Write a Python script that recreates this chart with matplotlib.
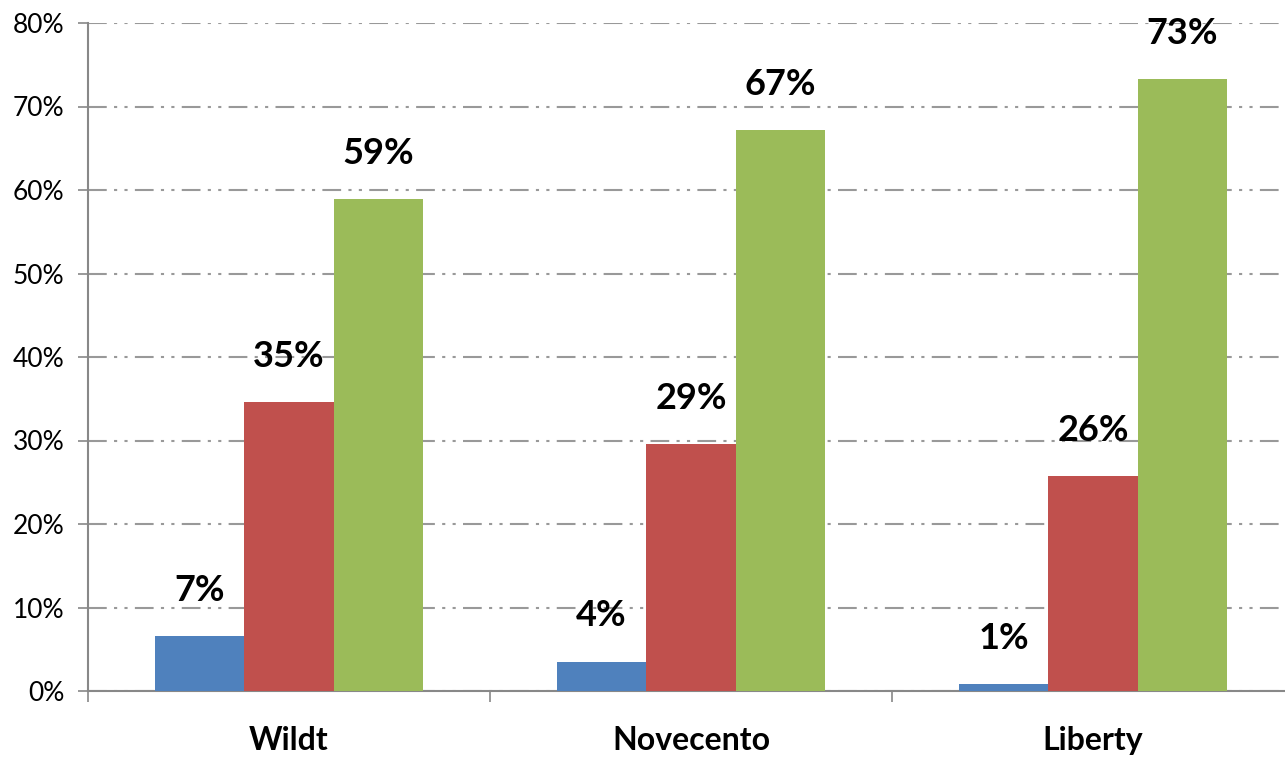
import matplotlib.pyplot as plt
import numpy as np

categories = ["Wildt", "Novecento", "Liberty"]
blue_vals = [6.6, 3.5, 0.8]
red_vals = [34.6, 29.6, 25.7]
green_vals = [58.9, 67.2, 73.3]
blue_labels = ["7%", "4%", "1%"]
red_labels = ["35%", "29%", "26%"]
green_labels = ["59%", "67%", "73%"]
yticks = [0, 10, 20, 30, 40, 50, 60, 70, 80]

plt.rcParams['font.family'] = ['Lato', 'DejaVu Sans']

fig = plt.figure(figsize=(12.85, 7.58), dpi=100)
ax = fig.add_axes([88/1285, 67/758, 1206/1285, 668/758])

x = np.arange(len(categories))
w = 0.2226
series = [(blue_vals, blue_labels, '#4F81BD'),
          (red_vals, red_labels, '#C0504D'),
          (green_vals, green_labels, '#9BBB59')]
for k, (vals, labs, col) in enumerate(series):
    xs = x + (k - 1) * w
    ax.bar(xs, vals, width=w, color=col, zorder=3)
    for xi, v, lab in zip(xs, vals, labs):
        ax.annotate(lab, (xi, v), xytext=(0, 33), textcoords='offset points',
                    ha='center', va='center', fontsize=26, fontweight='bold')

ax.set_xlim(-0.5, 2.5)
ax.set_ylim(0, 80)
ax.set_yticks(yticks)
ax.set_yticklabels([f"{t}%" for t in yticks], fontsize=19)
ax.set_xticks(x)
ax.set_xticklabels(categories, fontsize=23, fontweight='bold')
ax.set_xticks([-0.5, 0.5, 1.5], minor=True)
ax.tick_params(axis='x', which='major', length=0, pad=25)
ax.tick_params(axis='x', which='minor', length=8, color='#888888', width=1.2)
ax.tick_params(axis='y', length=7, color='#888888', width=1.2, pad=10)

ax.yaxis.grid(True, color='#999999', linewidth=1.5, dashes=(9, 3.5, 1.5, 3.5, 1.5, 3.5), zorder=0)
for s in ['top', 'right']:
    ax.spines[s].set_visible(False)
for s in ['left', 'bottom']:
    ax.spines[s].set_color('#888888')
    ax.spines[s].set_linewidth(1.5)

fig.savefig("out.png", dpi=100)
